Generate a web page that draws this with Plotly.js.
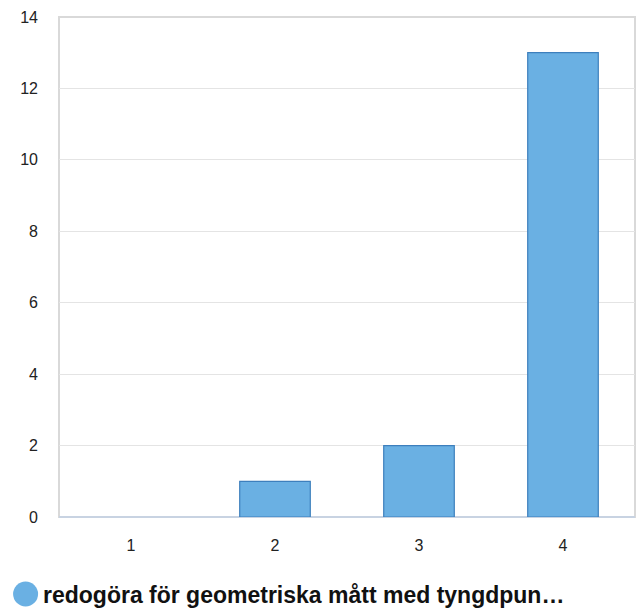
<!DOCTYPE html>
<html>
<head>
<meta charset="utf-8">
<script src="https://cdn.plot.ly/plotly-3.0.1.min.js"></script>
<style>html,body{margin:0;padding:0;background:#fff;}#chart{width:637px;height:608px;}</style>
</head>
<body>
<div id="chart"></div>
<script>
const categories = ["1", "2", "3", "4"];
const values = [0, 1, 2, 13];
const seriesName = "redogöra för geometriska mått med tyngdpun…";
const yTicks = [0, 2, 4, 6, 8, 10, 12, 14];

const trace = {
  type: "bar",
  x: categories,
  y: values,
  name: seriesName,
  marker: { color: "#6ab0e3", line: { color: "#3d7fbd", width: values.map(v => v ? 1.2 : 0) } },
  hoverinfo: "none"
};

const layout = {
  width: 637, height: 608,
  margin: { l: 59, r: 2, t: 17, b: 91 },
  paper_bgcolor: "#fff", plot_bgcolor: "#fff",
  showlegend: false,
  bargap: 0.51,
  font: { family: "Liberation Sans, Arial, sans-serif", color: "#222", size: 16 },
  xaxis: {
    type: "category",
    showgrid: false,
    showline: false,
    zeroline: false,
    ticks: "",
    ticklabelstandoff: 17,
    tickfont: { size: 16, color: "#222" }
  },
  yaxis: {
    range: [0, 14],
    tickvals: yTicks,
    ticktext: yTicks.map(String),
    showgrid: true,
    gridcolor: "#e4e4e4",
    gridwidth: 1,
    zeroline: true,
    zerolinecolor: "#c8d3e2",
    zerolinewidth: 2,
    showline: false,
    ticks: "",
    ticklabelstandoff: 20,
    tickfont: { size: 16, color: "#222" }
  },
  shapes: [
    { type: "rect", xref: "paper", yref: "paper", x0: 0, x1: 1, y0: 0, y1: 1,
      line: { color: "#d9d9d9", width: 2 }, layer: "below" },
    { type: "circle", xref: "paper", yref: "paper", xsizemode: "pixel", ysizemode: "pixel",
      xanchor: -0.058, yanchor: -0.154, x0: -12.5, x1: 12.5, y0: -12.5, y1: 12.5,
      fillcolor: "#6ab0e3", line: { width: 0 } }
  ],
  annotations: [
    { xref: "paper", yref: "paper", x: -0.031, y: -0.155, xanchor: "left", yanchor: "middle",
      text: "<b>" + seriesName + "</b>", showarrow: false,
      font: { size: 23, color: "#111", family: "Liberation Sans, Arial, sans-serif" } }
  ]
};

Plotly.newPlot("chart", [trace], layout, { displayModeBar: false, staticPlot: true });
</script>
</body>
</html>
